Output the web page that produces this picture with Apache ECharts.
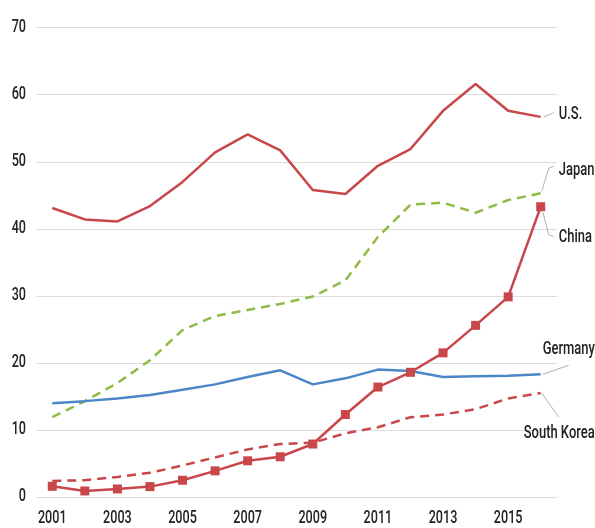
<!DOCTYPE html>
<html><head><meta charset="utf-8">
<script src="https://cdn.jsdelivr.net/npm/echarts@6/dist/echarts.min.js"></script>
<style>html,body{margin:0;padding:0;background:#fff}#c{width:595px;height:528px}</style>
</head><body><div id="c"></div>
<script>
const years = ['2001','2002','2003','2004','2005','2006','2007','2008','2009','2010','2011','2012','2013','2014','2015','2016'];
const us      = [43.1,41.4,41.1,43.4,47.0,51.4,54.1,51.7,45.8,45.2,49.4,51.9,57.6,61.6,57.6,56.7];
const japan   = [11.9,14.3,17.0,20.4,24.9,27.0,27.9,28.8,29.9,32.3,38.8,43.6,43.9,42.4,44.3,45.3];
const china   = [1.6,0.9,1.2,1.55,2.5,3.9,5.4,6.0,7.9,12.3,16.4,18.6,21.5,25.6,29.85,43.3];
const germany = [14.0,14.3,14.7,15.2,16.0,16.8,17.9,18.9,16.8,17.7,19.0,18.8,17.9,18.0,18.1,18.3];
const korea   = [2.4,2.5,3.0,3.6,4.7,5.9,7.1,7.9,8.1,9.5,10.4,11.9,12.3,13.1,14.7,15.5];
const yTicks  = [0,10,20,30,40,50,60,70];
const xTicks  = ['2001','2003','2005','2007','2009','2011','2013','2015'];

const FONT = 'Roboto,"DejaVu Sans",sans-serif';
const RED = '#c8474a', GREEN = '#8dbb45', BLUE = '#4a86c8';
const TXT = '#222';

const chart = echarts.init(document.getElementById('c'), null, {renderer:'canvas'});
chart.setOption({
  animation:false,
  grid:{left:36, right:38, top:27.7, bottom:31},
  xAxis:{type:'category', data:years, boundaryGap:true,
    axisLine:{show:false}, axisTick:{show:false}, axisLabel:{show:false}},
  yAxis:{type:'value', min:yTicks[0], max:yTicks[yTicks.length-1], interval:10,
    axisLine:{show:false}, axisTick:{show:false}, axisLabel:{show:false},
    splitLine:{lineStyle:{color:'#dcdcdc', width:1}}},
  series:[
    {name:'U.S.', type:'line', data:us, showSymbol:false, lineStyle:{color:RED, width:2.5}, z:3},
    {name:'Japan', type:'line', data:japan, showSymbol:false, lineStyle:{color:GREEN, width:2.5, type:[9,6]}, z:2},
    {name:'Germany', type:'line', data:germany, showSymbol:false, lineStyle:{color:BLUE, width:2.5}, z:2},
    {name:'South Korea', type:'line', data:korea, showSymbol:false, lineStyle:{color:RED, width:2.5, type:[9,6]}, z:2},
    {name:'China', type:'line', data:china, symbol:'rect', symbolSize:9, itemStyle:{color:RED}, lineStyle:{color:RED, width:2.5}, z:4}
  ]
});

const SX = 0.72;
function txt(x, y, s, size, align){
  return {type:'text', silent:true, x:x, y:y, scaleX:SX, scaleY:1,
    style:{text:s, fill:TXT, font:'500 '+size+'px '+FONT, textVerticalAlign:'middle', textAlign:align}};
}
const g = [];
yTicks.forEach(v=>{
  const py = chart.convertToPixel({yAxisIndex:0}, v);
  g.push(txt(26, py, String(v), 17.5, 'right'));
});
xTicks.forEach(v=>{
  const px = chart.convertToPixel({xAxisIndex:0}, v);
  g.push(txt(px, 519, v, 17.5, 'center'));
});

const last = years.length-1;
function pt(arr){ return chart.convertToPixel({gridIndex:0}, [years[last], arr[last]]); }
const labels = [
  {arr:us, text:'U.S.', line:[[3,0],[13,-4]], tx:18, ty:-2},
  {arr:japan, text:'Japan', line:[[1,-2],[8,-25],[13,-27]], tx:18, ty:-23},
  {arr:china, text:'China', line:[[2,5],[8,28],[13,30]], tx:18, ty:31},
  {arr:germany, text:'Germany', line:[[2,0],[28,-9]], tx:2, ty:-25},
  {arr:korea, text:'South Korea', line:[[1,0],[18,24]], tx:-17, ty:40}
];
labels.forEach(l=>{
  const p = pt(l.arr);
  g.push({type:'polyline', silent:true, z:1, shape:{points:l.line.map(o=>[p[0]+o[0], p[1]+o[1]])},
    style:{stroke:'#b0b0b0', lineWidth:1, fill:null}});
  g.push(txt(p[0]+l.tx, p[1]+l.ty, l.text, 18, 'left'));
});
chart.setOption({graphic:g});
</script></body></html>
